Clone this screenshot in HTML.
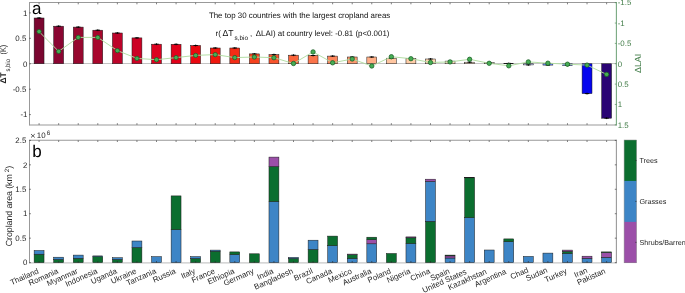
<!DOCTYPE html>
<html><head><meta charset="utf-8"><style>
html,body{margin:0;padding:0;background:#fff;}
body{width:685px;height:293px;overflow:hidden;}
svg{display:block;font-family:"Liberation Sans", sans-serif;will-change:transform;text-rendering:geometricPrecision;}
.tk{font-size:7.9px;fill:#262626;}
.ttl{font-size:7.9px;fill:#111;}
.lab{font-size:8.9px;fill:#262626;}
.big{font-size:17px;fill:#000;}
</style></head><body>
<svg width="685" height="293" viewBox="0 0 685 293">
<line x1="29.3" y1="63.5" x2="616.4" y2="63.5" stroke="#c4c4c4" stroke-width="1"/>
<rect x="34.13" y="18" width="9.9" height="45.75" fill="#7a0630" stroke="#1a1a1a" stroke-width="0.5"/>
<line x1="36.88" y1="18" x2="41.29" y2="18" stroke="#000" stroke-width="0.9"/>
<line x1="39.09" y1="17.1" x2="39.09" y2="18.9" stroke="#000" stroke-width="0.9"/>
<rect x="53.7" y="26.2" width="9.9" height="37.55" fill="#8a0632" stroke="#1a1a1a" stroke-width="0.5"/>
<line x1="56.45" y1="26.2" x2="60.86" y2="26.2" stroke="#000" stroke-width="0.9"/>
<line x1="58.66" y1="25.3" x2="58.66" y2="27.1" stroke="#000" stroke-width="0.9"/>
<rect x="73.27" y="27.1" width="9.9" height="36.65" fill="#97082f" stroke="#1a1a1a" stroke-width="0.5"/>
<line x1="76.02" y1="27.1" x2="80.42" y2="27.1" stroke="#000" stroke-width="0.9"/>
<line x1="78.22" y1="26.2" x2="78.22" y2="28" stroke="#000" stroke-width="0.9"/>
<rect x="92.84" y="30.2" width="9.9" height="33.55" fill="#a8062c" stroke="#1a1a1a" stroke-width="0.5"/>
<line x1="95.59" y1="30.2" x2="100" y2="30.2" stroke="#000" stroke-width="0.9"/>
<line x1="97.8" y1="29.3" x2="97.8" y2="31.1" stroke="#000" stroke-width="0.9"/>
<rect x="112.41" y="33" width="9.9" height="30.75" fill="#bc042a" stroke="#1a1a1a" stroke-width="0.5"/>
<line x1="115.16" y1="33" x2="119.56" y2="33" stroke="#000" stroke-width="0.9"/>
<line x1="117.36" y1="32.1" x2="117.36" y2="33.9" stroke="#000" stroke-width="0.9"/>
<rect x="131.99" y="37.9" width="9.9" height="25.85" fill="#cc0224" stroke="#1a1a1a" stroke-width="0.5"/>
<line x1="134.74" y1="37.9" x2="139.13" y2="37.9" stroke="#000" stroke-width="0.9"/>
<line x1="136.94" y1="37" x2="136.94" y2="38.8" stroke="#000" stroke-width="0.9"/>
<rect x="151.56" y="44.2" width="9.9" height="19.55" fill="#dc0220" stroke="#1a1a1a" stroke-width="0.5"/>
<line x1="154.31" y1="44.2" x2="158.7" y2="44.2" stroke="#000" stroke-width="0.9"/>
<line x1="156.5" y1="43.3" x2="156.5" y2="45.1" stroke="#000" stroke-width="0.9"/>
<rect x="171.13" y="44.3" width="9.9" height="19.45" fill="#e2001a" stroke="#1a1a1a" stroke-width="0.5"/>
<line x1="173.88" y1="44.3" x2="178.28" y2="44.3" stroke="#000" stroke-width="0.9"/>
<line x1="176.08" y1="43.4" x2="176.08" y2="45.2" stroke="#000" stroke-width="0.9"/>
<rect x="190.7" y="45.5" width="9.9" height="18.25" fill="#ea0810" stroke="#1a1a1a" stroke-width="0.5"/>
<line x1="193.45" y1="45.5" x2="197.84" y2="45.5" stroke="#000" stroke-width="0.9"/>
<line x1="195.65" y1="44.6" x2="195.65" y2="46.4" stroke="#000" stroke-width="0.9"/>
<rect x="210.27" y="48" width="9.9" height="15.75" fill="#f0180e" stroke="#1a1a1a" stroke-width="0.5"/>
<line x1="213.02" y1="48" x2="217.41" y2="48" stroke="#000" stroke-width="0.9"/>
<line x1="215.22" y1="47.1" x2="215.22" y2="48.9" stroke="#000" stroke-width="0.9"/>
<rect x="229.84" y="48" width="9.9" height="15.75" fill="#f42c16" stroke="#1a1a1a" stroke-width="0.5"/>
<line x1="232.59" y1="48" x2="236.99" y2="48" stroke="#000" stroke-width="0.9"/>
<line x1="234.79" y1="47.1" x2="234.79" y2="48.9" stroke="#000" stroke-width="0.9"/>
<rect x="249.41" y="53.9" width="9.9" height="9.85" fill="#f6421e" stroke="#1a1a1a" stroke-width="0.5"/>
<line x1="252.16" y1="53.9" x2="256.56" y2="53.9" stroke="#000" stroke-width="0.9"/>
<line x1="254.36" y1="53" x2="254.36" y2="54.8" stroke="#000" stroke-width="0.9"/>
<rect x="268.98" y="54.6" width="9.9" height="9.15" fill="#f8542c" stroke="#1a1a1a" stroke-width="0.5"/>
<line x1="271.73" y1="54.6" x2="276.12" y2="54.6" stroke="#000" stroke-width="0.9"/>
<line x1="273.93" y1="53.7" x2="273.93" y2="55.5" stroke="#000" stroke-width="0.9"/>
<rect x="288.55" y="55.2" width="9.9" height="8.55" fill="#fa643a" stroke="#1a1a1a" stroke-width="0.5"/>
<line x1="291.3" y1="55.2" x2="295.69" y2="55.2" stroke="#000" stroke-width="0.9"/>
<line x1="293.5" y1="54.3" x2="293.5" y2="56.1" stroke="#000" stroke-width="0.9"/>
<rect x="308.12" y="55.5" width="9.9" height="8.25" fill="#fb744a" stroke="#1a1a1a" stroke-width="0.5"/>
<line x1="310.87" y1="55.5" x2="315.26" y2="55.5" stroke="#000" stroke-width="0.9"/>
<line x1="313.06" y1="54.6" x2="313.06" y2="56.4" stroke="#000" stroke-width="0.9"/>
<rect x="327.69" y="56.1" width="9.9" height="7.65" fill="#fc865c" stroke="#1a1a1a" stroke-width="0.5"/>
<line x1="330.44" y1="56.1" x2="334.83" y2="56.1" stroke="#000" stroke-width="0.9"/>
<line x1="332.63" y1="55.2" x2="332.63" y2="57" stroke="#000" stroke-width="0.9"/>
<rect x="347.26" y="57" width="9.9" height="6.75" fill="#fd9a70" stroke="#1a1a1a" stroke-width="0.5"/>
<line x1="350.01" y1="57" x2="354.41" y2="57" stroke="#000" stroke-width="0.9"/>
<line x1="352.21" y1="56.1" x2="352.21" y2="57.9" stroke="#000" stroke-width="0.9"/>
<rect x="366.83" y="57" width="9.9" height="6.75" fill="#feae86" stroke="#1a1a1a" stroke-width="0.5"/>
<line x1="369.58" y1="57" x2="373.98" y2="57" stroke="#000" stroke-width="0.9"/>
<line x1="371.78" y1="56.1" x2="371.78" y2="57.9" stroke="#000" stroke-width="0.9"/>
<rect x="386.4" y="58.2" width="9.9" height="5.55" fill="#ffc6a0" stroke="#1a1a1a" stroke-width="0.5"/>
<line x1="389.15" y1="58.2" x2="393.55" y2="58.2" stroke="#000" stroke-width="0.9"/>
<line x1="391.35" y1="57.3" x2="391.35" y2="59.1" stroke="#000" stroke-width="0.9"/>
<rect x="405.97" y="58.4" width="9.9" height="5.35" fill="#ffcea8" stroke="#1a1a1a" stroke-width="0.5"/>
<line x1="408.72" y1="58.4" x2="413.12" y2="58.4" stroke="#000" stroke-width="0.9"/>
<line x1="410.92" y1="57.5" x2="410.92" y2="59.3" stroke="#000" stroke-width="0.9"/>
<rect x="425.54" y="59" width="9.9" height="4.75" fill="#ffd6b2" stroke="#1a1a1a" stroke-width="0.5"/>
<line x1="428.29" y1="59" x2="432.69" y2="59" stroke="#000" stroke-width="0.9"/>
<line x1="430.49" y1="58.1" x2="430.49" y2="59.9" stroke="#000" stroke-width="0.9"/>
<rect x="445.11" y="61.1" width="9.9" height="2.65" fill="#ffdebe" stroke="#1a1a1a" stroke-width="0.5"/>
<line x1="447.86" y1="61.1" x2="452.25" y2="61.1" stroke="#000" stroke-width="0.9"/>
<line x1="450.06" y1="60.2" x2="450.06" y2="62" stroke="#000" stroke-width="0.9"/>
<rect x="464.68" y="62.2" width="9.9" height="1.55" fill="#ffe4ca" stroke="#1a1a1a" stroke-width="0.5"/>
<line x1="467.43" y1="62.2" x2="471.82" y2="62.2" stroke="#000" stroke-width="0.9"/>
<line x1="469.62" y1="61.3" x2="469.62" y2="63.1" stroke="#000" stroke-width="0.9"/>
<rect x="484.25" y="62.5" width="9.9" height="1.25" fill="#ffe8d0" stroke="#1a1a1a" stroke-width="0.5"/>
<line x1="487" y1="62.5" x2="491.39" y2="62.5" stroke="#000" stroke-width="0.9"/>
<line x1="489.19" y1="61.6" x2="489.19" y2="63.4" stroke="#000" stroke-width="0.9"/>
<rect x="503.82" y="63.4" width="9.9" height="0.35" fill="#f0f0f0" stroke="#1a1a1a" stroke-width="0.5"/>
<line x1="506.57" y1="63.4" x2="510.97" y2="63.4" stroke="#000" stroke-width="0.9"/>
<line x1="508.77" y1="62.5" x2="508.77" y2="64.3" stroke="#000" stroke-width="0.9"/>
<rect x="523.38" y="63.75" width="9.9" height="1.15" fill="#c8d4ff" stroke="#1a1a1a" stroke-width="0.5"/>
<line x1="526.13" y1="64.9" x2="530.54" y2="64.9" stroke="#000" stroke-width="0.9"/>
<line x1="528.34" y1="64" x2="528.34" y2="65.8" stroke="#000" stroke-width="0.9"/>
<rect x="542.95" y="63.75" width="9.9" height="1.35" fill="#6a8cff" stroke="#1a1a1a" stroke-width="0.5"/>
<line x1="545.7" y1="65.1" x2="550.11" y2="65.1" stroke="#000" stroke-width="0.9"/>
<line x1="547.9" y1="64.2" x2="547.9" y2="66" stroke="#000" stroke-width="0.9"/>
<rect x="562.52" y="63.75" width="9.9" height="1.75" fill="#5a7cff" stroke="#1a1a1a" stroke-width="0.5"/>
<line x1="565.27" y1="65.5" x2="569.67" y2="65.5" stroke="#000" stroke-width="0.9"/>
<line x1="567.47" y1="64.6" x2="567.47" y2="66.4" stroke="#000" stroke-width="0.9"/>
<rect x="582.09" y="63.75" width="9.9" height="29.85" fill="#0606ee" stroke="#1a1a1a" stroke-width="0.5"/>
<line x1="584.84" y1="93.6" x2="589.25" y2="93.6" stroke="#000" stroke-width="0.9"/>
<line x1="587.04" y1="92.7" x2="587.04" y2="94.5" stroke="#000" stroke-width="0.9"/>
<rect x="601.66" y="63.75" width="9.9" height="54.45" fill="#2a0474" stroke="#1a1a1a" stroke-width="0.5"/>
<line x1="604.41" y1="118.2" x2="608.82" y2="118.2" stroke="#000" stroke-width="0.9"/>
<line x1="606.62" y1="117.3" x2="606.62" y2="119.1" stroke="#000" stroke-width="0.9"/>
<path d="M39.09,31.6 L58.66,51.4 L78.22,37.4 L97.8,37.4 L117.36,50.6 L136.94,58.4 L156.5,59.7 L176.08,57.6 L195.65,55.4 L215.22,54.6 L234.79,57.6 L254.36,57 L273.93,57.7 L293.5,63.5 L313.06,51.9 L332.63,62.8 L352.21,59 L371.78,66 L391.35,56.7 L410.92,58.7 L430.49,62.5 L450.06,61.9 L469.62,59.3 L489.19,63.3 L508.77,65.8 L528.34,61.9 L547.9,63.2 L567.47,64.2 L587.04,65.1 L606.62,74.4" fill="none" stroke="#b0dca0" stroke-width="0.95"/>
<circle cx="39.09" cy="31.6" r="2.2" fill="#46ad55" stroke="#1a5f24" stroke-width="0.75"/>
<circle cx="58.66" cy="51.4" r="2.2" fill="#46ad55" stroke="#1a5f24" stroke-width="0.75"/>
<circle cx="78.22" cy="37.4" r="2.2" fill="#46ad55" stroke="#1a5f24" stroke-width="0.75"/>
<circle cx="97.8" cy="37.4" r="2.2" fill="#46ad55" stroke="#1a5f24" stroke-width="0.75"/>
<circle cx="117.36" cy="50.6" r="2.2" fill="#46ad55" stroke="#1a5f24" stroke-width="0.75"/>
<circle cx="136.94" cy="58.4" r="2.2" fill="#46ad55" stroke="#1a5f24" stroke-width="0.75"/>
<circle cx="156.5" cy="59.7" r="2.2" fill="#46ad55" stroke="#1a5f24" stroke-width="0.75"/>
<circle cx="176.08" cy="57.6" r="2.2" fill="#46ad55" stroke="#1a5f24" stroke-width="0.75"/>
<circle cx="195.65" cy="55.4" r="2.2" fill="#46ad55" stroke="#1a5f24" stroke-width="0.75"/>
<circle cx="215.22" cy="54.6" r="2.2" fill="#46ad55" stroke="#1a5f24" stroke-width="0.75"/>
<circle cx="234.79" cy="57.6" r="2.2" fill="#46ad55" stroke="#1a5f24" stroke-width="0.75"/>
<circle cx="254.36" cy="57" r="2.2" fill="#46ad55" stroke="#1a5f24" stroke-width="0.75"/>
<circle cx="273.93" cy="57.7" r="2.2" fill="#46ad55" stroke="#1a5f24" stroke-width="0.75"/>
<circle cx="293.5" cy="63.5" r="2.2" fill="#46ad55" stroke="#1a5f24" stroke-width="0.75"/>
<circle cx="313.06" cy="51.9" r="2.2" fill="#46ad55" stroke="#1a5f24" stroke-width="0.75"/>
<circle cx="332.63" cy="62.8" r="2.2" fill="#46ad55" stroke="#1a5f24" stroke-width="0.75"/>
<circle cx="352.21" cy="59" r="2.2" fill="#46ad55" stroke="#1a5f24" stroke-width="0.75"/>
<circle cx="371.78" cy="66" r="2.2" fill="#46ad55" stroke="#1a5f24" stroke-width="0.75"/>
<circle cx="391.35" cy="56.7" r="2.2" fill="#46ad55" stroke="#1a5f24" stroke-width="0.75"/>
<circle cx="410.92" cy="58.7" r="2.2" fill="#46ad55" stroke="#1a5f24" stroke-width="0.75"/>
<circle cx="430.49" cy="62.5" r="2.2" fill="#46ad55" stroke="#1a5f24" stroke-width="0.75"/>
<circle cx="450.06" cy="61.9" r="2.2" fill="#46ad55" stroke="#1a5f24" stroke-width="0.75"/>
<circle cx="469.62" cy="59.3" r="2.2" fill="#46ad55" stroke="#1a5f24" stroke-width="0.75"/>
<circle cx="489.19" cy="63.3" r="2.2" fill="#46ad55" stroke="#1a5f24" stroke-width="0.75"/>
<circle cx="508.77" cy="65.8" r="2.2" fill="#46ad55" stroke="#1a5f24" stroke-width="0.75"/>
<circle cx="528.34" cy="61.9" r="2.2" fill="#46ad55" stroke="#1a5f24" stroke-width="0.75"/>
<circle cx="547.9" cy="63.2" r="2.2" fill="#46ad55" stroke="#1a5f24" stroke-width="0.75"/>
<circle cx="567.47" cy="64.2" r="2.2" fill="#46ad55" stroke="#1a5f24" stroke-width="0.75"/>
<circle cx="587.04" cy="65.1" r="2.2" fill="#46ad55" stroke="#1a5f24" stroke-width="0.75"/>
<circle cx="606.62" cy="74.4" r="2.2" fill="#46ad55" stroke="#1a5f24" stroke-width="0.75"/>
<line x1="29.5" y1="2.5" x2="616.4" y2="2.5" stroke="#999999" stroke-width="1"/>
<line x1="29.5" y1="125" x2="616.4" y2="125" stroke="#999999" stroke-width="1.1"/>
<line x1="29.5" y1="2" x2="29.5" y2="125.5" stroke="#999999" stroke-width="1"/>
<line x1="616.4" y1="2" x2="616.4" y2="125.5" stroke="#78a880" stroke-width="1.1"/>
<line x1="39.09" y1="124.8" x2="39.09" y2="123.2" stroke="#262626" stroke-width="0.6"/>
<line x1="39.09" y1="2.7" x2="39.09" y2="4.3" stroke="#262626" stroke-width="0.6"/>
<line x1="58.66" y1="124.8" x2="58.66" y2="123.2" stroke="#262626" stroke-width="0.6"/>
<line x1="58.66" y1="2.7" x2="58.66" y2="4.3" stroke="#262626" stroke-width="0.6"/>
<line x1="78.22" y1="124.8" x2="78.22" y2="123.2" stroke="#262626" stroke-width="0.6"/>
<line x1="78.22" y1="2.7" x2="78.22" y2="4.3" stroke="#262626" stroke-width="0.6"/>
<line x1="97.8" y1="124.8" x2="97.8" y2="123.2" stroke="#262626" stroke-width="0.6"/>
<line x1="97.8" y1="2.7" x2="97.8" y2="4.3" stroke="#262626" stroke-width="0.6"/>
<line x1="117.36" y1="124.8" x2="117.36" y2="123.2" stroke="#262626" stroke-width="0.6"/>
<line x1="117.36" y1="2.7" x2="117.36" y2="4.3" stroke="#262626" stroke-width="0.6"/>
<line x1="136.94" y1="124.8" x2="136.94" y2="123.2" stroke="#262626" stroke-width="0.6"/>
<line x1="136.94" y1="2.7" x2="136.94" y2="4.3" stroke="#262626" stroke-width="0.6"/>
<line x1="156.5" y1="124.8" x2="156.5" y2="123.2" stroke="#262626" stroke-width="0.6"/>
<line x1="156.5" y1="2.7" x2="156.5" y2="4.3" stroke="#262626" stroke-width="0.6"/>
<line x1="176.08" y1="124.8" x2="176.08" y2="123.2" stroke="#262626" stroke-width="0.6"/>
<line x1="176.08" y1="2.7" x2="176.08" y2="4.3" stroke="#262626" stroke-width="0.6"/>
<line x1="195.65" y1="124.8" x2="195.65" y2="123.2" stroke="#262626" stroke-width="0.6"/>
<line x1="195.65" y1="2.7" x2="195.65" y2="4.3" stroke="#262626" stroke-width="0.6"/>
<line x1="215.22" y1="124.8" x2="215.22" y2="123.2" stroke="#262626" stroke-width="0.6"/>
<line x1="215.22" y1="2.7" x2="215.22" y2="4.3" stroke="#262626" stroke-width="0.6"/>
<line x1="234.79" y1="124.8" x2="234.79" y2="123.2" stroke="#262626" stroke-width="0.6"/>
<line x1="234.79" y1="2.7" x2="234.79" y2="4.3" stroke="#262626" stroke-width="0.6"/>
<line x1="254.36" y1="124.8" x2="254.36" y2="123.2" stroke="#262626" stroke-width="0.6"/>
<line x1="254.36" y1="2.7" x2="254.36" y2="4.3" stroke="#262626" stroke-width="0.6"/>
<line x1="273.93" y1="124.8" x2="273.93" y2="123.2" stroke="#262626" stroke-width="0.6"/>
<line x1="273.93" y1="2.7" x2="273.93" y2="4.3" stroke="#262626" stroke-width="0.6"/>
<line x1="293.5" y1="124.8" x2="293.5" y2="123.2" stroke="#262626" stroke-width="0.6"/>
<line x1="293.5" y1="2.7" x2="293.5" y2="4.3" stroke="#262626" stroke-width="0.6"/>
<line x1="313.06" y1="124.8" x2="313.06" y2="123.2" stroke="#262626" stroke-width="0.6"/>
<line x1="313.06" y1="2.7" x2="313.06" y2="4.3" stroke="#262626" stroke-width="0.6"/>
<line x1="332.63" y1="124.8" x2="332.63" y2="123.2" stroke="#262626" stroke-width="0.6"/>
<line x1="332.63" y1="2.7" x2="332.63" y2="4.3" stroke="#262626" stroke-width="0.6"/>
<line x1="352.21" y1="124.8" x2="352.21" y2="123.2" stroke="#262626" stroke-width="0.6"/>
<line x1="352.21" y1="2.7" x2="352.21" y2="4.3" stroke="#262626" stroke-width="0.6"/>
<line x1="371.78" y1="124.8" x2="371.78" y2="123.2" stroke="#262626" stroke-width="0.6"/>
<line x1="371.78" y1="2.7" x2="371.78" y2="4.3" stroke="#262626" stroke-width="0.6"/>
<line x1="391.35" y1="124.8" x2="391.35" y2="123.2" stroke="#262626" stroke-width="0.6"/>
<line x1="391.35" y1="2.7" x2="391.35" y2="4.3" stroke="#262626" stroke-width="0.6"/>
<line x1="410.92" y1="124.8" x2="410.92" y2="123.2" stroke="#262626" stroke-width="0.6"/>
<line x1="410.92" y1="2.7" x2="410.92" y2="4.3" stroke="#262626" stroke-width="0.6"/>
<line x1="430.49" y1="124.8" x2="430.49" y2="123.2" stroke="#262626" stroke-width="0.6"/>
<line x1="430.49" y1="2.7" x2="430.49" y2="4.3" stroke="#262626" stroke-width="0.6"/>
<line x1="450.06" y1="124.8" x2="450.06" y2="123.2" stroke="#262626" stroke-width="0.6"/>
<line x1="450.06" y1="2.7" x2="450.06" y2="4.3" stroke="#262626" stroke-width="0.6"/>
<line x1="469.62" y1="124.8" x2="469.62" y2="123.2" stroke="#262626" stroke-width="0.6"/>
<line x1="469.62" y1="2.7" x2="469.62" y2="4.3" stroke="#262626" stroke-width="0.6"/>
<line x1="489.19" y1="124.8" x2="489.19" y2="123.2" stroke="#262626" stroke-width="0.6"/>
<line x1="489.19" y1="2.7" x2="489.19" y2="4.3" stroke="#262626" stroke-width="0.6"/>
<line x1="508.77" y1="124.8" x2="508.77" y2="123.2" stroke="#262626" stroke-width="0.6"/>
<line x1="508.77" y1="2.7" x2="508.77" y2="4.3" stroke="#262626" stroke-width="0.6"/>
<line x1="528.34" y1="124.8" x2="528.34" y2="123.2" stroke="#262626" stroke-width="0.6"/>
<line x1="528.34" y1="2.7" x2="528.34" y2="4.3" stroke="#262626" stroke-width="0.6"/>
<line x1="547.9" y1="124.8" x2="547.9" y2="123.2" stroke="#262626" stroke-width="0.6"/>
<line x1="547.9" y1="2.7" x2="547.9" y2="4.3" stroke="#262626" stroke-width="0.6"/>
<line x1="567.47" y1="124.8" x2="567.47" y2="123.2" stroke="#262626" stroke-width="0.6"/>
<line x1="567.47" y1="2.7" x2="567.47" y2="4.3" stroke="#262626" stroke-width="0.6"/>
<line x1="587.04" y1="124.8" x2="587.04" y2="123.2" stroke="#262626" stroke-width="0.6"/>
<line x1="587.04" y1="2.7" x2="587.04" y2="4.3" stroke="#262626" stroke-width="0.6"/>
<line x1="606.62" y1="124.8" x2="606.62" y2="123.2" stroke="#262626" stroke-width="0.6"/>
<line x1="606.62" y1="2.7" x2="606.62" y2="4.3" stroke="#262626" stroke-width="0.6"/>
<line x1="29.3" y1="12.88" x2="30.9" y2="12.88" stroke="#262626" stroke-width="0.6"/>
<text x="27.5" y="15.62" text-anchor="end" class="tk">1</text>
<line x1="29.3" y1="38.31" x2="30.9" y2="38.31" stroke="#262626" stroke-width="0.6"/>
<text x="26.3" y="41.06" text-anchor="end" class="tk">0.5</text>
<line x1="29.3" y1="63.75" x2="30.9" y2="63.75" stroke="#262626" stroke-width="0.6"/>
<text x="27.5" y="66.5" text-anchor="end" class="tk">0</text>
<line x1="29.3" y1="89.19" x2="30.9" y2="89.19" stroke="#262626" stroke-width="0.6"/>
<text x="26.3" y="91.94" text-anchor="end" class="tk">-0.5</text>
<line x1="29.3" y1="114.62" x2="30.9" y2="114.62" stroke="#262626" stroke-width="0.6"/>
<text x="27.5" y="117.38" text-anchor="end" class="tk">-1</text>
<line x1="616.4" y1="2.7" x2="614.8" y2="2.7" stroke="#417c47" stroke-width="0.6"/>
<text x="617.7" y="5.45" class="tk" style="fill:#417c47">-1.5</text>
<line x1="616.4" y1="23.05" x2="614.8" y2="23.05" stroke="#417c47" stroke-width="0.6"/>
<text x="617.7" y="25.8" class="tk" style="fill:#417c47">-1</text>
<line x1="616.4" y1="43.4" x2="614.8" y2="43.4" stroke="#417c47" stroke-width="0.6"/>
<text x="617.7" y="46.15" class="tk" style="fill:#417c47">-0.5</text>
<line x1="616.4" y1="63.75" x2="614.8" y2="63.75" stroke="#417c47" stroke-width="0.6"/>
<text x="617.7" y="66.5" class="tk" style="fill:#417c47">0</text>
<line x1="616.4" y1="84.1" x2="614.8" y2="84.1" stroke="#417c47" stroke-width="0.6"/>
<text x="617.7" y="86.85" class="tk" style="fill:#417c47">0.5</text>
<line x1="616.4" y1="104.45" x2="614.8" y2="104.45" stroke="#417c47" stroke-width="0.6"/>
<text x="617.7" y="107.2" class="tk" style="fill:#417c47">1</text>
<line x1="616.4" y1="124.8" x2="614.8" y2="124.8" stroke="#417c47" stroke-width="0.6"/>
<text x="617.7" y="127.55" class="tk" style="fill:#417c47">1.5</text>
<text x="208.9" y="17.8" class="ttl" textLength="181.4" lengthAdjust="spacing">The top 30 countries with the largest cropland areas</text>
<text x="215.5" y="35.9" class="ttl">r(</text>
<text x="222.5" y="35.9" class="ttl" style="font-size:8.6px" textLength="11.1" lengthAdjust="spacingAndGlyphs">ΔT</text>
<text x="234.6" y="39.5" class="ttl" style="font-size:6.4px">s,bio</text>
<text x="250.1" y="35.9" class="ttl">,</text>
<text x="255.8" y="35.9" class="ttl" textLength="133.6" lengthAdjust="spacing">ΔLAI) at country level: -0.81 (p&lt;0.001)</text>
<text x="32.1" y="14" class="big">a</text>
<text x="32.2" y="157" class="big">b</text>
<text transform="translate(5.8,83.6) rotate(-90)" class="lab" style="font-size:8.4px;font-weight:bold" textLength="11.2" lengthAdjust="spacingAndGlyphs">ΔT</text>
<text transform="translate(9.9,71.6) rotate(-90)" class="lab" style="font-size:6.5px" textLength="12.6" lengthAdjust="spacingAndGlyphs">s,bio</text>
<text transform="translate(6.1,54.4) rotate(-90)" class="lab" style="font-size:8.5px" textLength="9.6" lengthAdjust="spacingAndGlyphs">(K)</text>
<text transform="translate(641.4,73) rotate(-90)" class="lab" style="fill:#417c47">ΔLAI</text>
<line x1="29.5" y1="262.8" x2="616.4" y2="262.8" stroke="#c8c8c8" stroke-width="1.2"/>
<rect x="34.13" y="254.2" width="9.9" height="8.4" fill="#0b6e2f" stroke="#1a1a1a" stroke-width="0.5"/>
<rect x="34.13" y="250.5" width="9.9" height="3.7" fill="#3d85c6" stroke="#1a1a1a" stroke-width="0.5"/>
<rect x="53.7" y="259.4" width="9.9" height="3.2" fill="#0b6e2f" stroke="#1a1a1a" stroke-width="0.5"/>
<rect x="53.7" y="257.2" width="9.9" height="2.2" fill="#3d85c6" stroke="#1a1a1a" stroke-width="0.5"/>
<rect x="73.27" y="258.3" width="9.9" height="4.3" fill="#0b6e2f" stroke="#1a1a1a" stroke-width="0.5"/>
<rect x="73.27" y="255.1" width="9.9" height="3.2" fill="#3d85c6" stroke="#1a1a1a" stroke-width="0.5"/>
<rect x="92.84" y="256.5" width="9.9" height="6.1" fill="#0b6e2f" stroke="#1a1a1a" stroke-width="0.5"/>
<rect x="92.84" y="255.9" width="9.9" height="0.6" fill="#3d85c6" stroke="#1a1a1a" stroke-width="0.5"/>
<rect x="112.41" y="259.4" width="9.9" height="3.2" fill="#0b6e2f" stroke="#1a1a1a" stroke-width="0.5"/>
<rect x="112.41" y="257.7" width="9.9" height="1.7" fill="#3d85c6" stroke="#1a1a1a" stroke-width="0.5"/>
<rect x="131.99" y="247.5" width="9.9" height="15.1" fill="#0b6e2f" stroke="#1a1a1a" stroke-width="0.5"/>
<rect x="131.99" y="241" width="9.9" height="6.5" fill="#3d85c6" stroke="#1a1a1a" stroke-width="0.5"/>
<rect x="151.56" y="256.6" width="9.9" height="6" fill="#3d85c6" stroke="#1a1a1a" stroke-width="0.5"/>
<rect x="171.13" y="229.7" width="9.9" height="32.9" fill="#3d85c6" stroke="#1a1a1a" stroke-width="0.5"/>
<rect x="171.13" y="195.9" width="9.9" height="33.8" fill="#0b6e2f" stroke="#1a1a1a" stroke-width="0.5"/>
<rect x="190.7" y="258.5" width="9.9" height="4.1" fill="#0b6e2f" stroke="#1a1a1a" stroke-width="0.5"/>
<rect x="190.7" y="256.6" width="9.9" height="1.9" fill="#3d85c6" stroke="#1a1a1a" stroke-width="0.5"/>
<rect x="210.27" y="251.2" width="9.9" height="11.4" fill="#0b6e2f" stroke="#1a1a1a" stroke-width="0.5"/>
<rect x="210.27" y="250.1" width="9.9" height="1.1" fill="#3d85c6" stroke="#1a1a1a" stroke-width="0.5"/>
<rect x="229.84" y="254.5" width="9.9" height="8.1" fill="#3d85c6" stroke="#1a1a1a" stroke-width="0.5"/>
<rect x="229.84" y="251.9" width="9.9" height="2.6" fill="#0b6e2f" stroke="#1a1a1a" stroke-width="0.5"/>
<rect x="249.41" y="253.8" width="9.9" height="8.8" fill="#0b6e2f" stroke="#1a1a1a" stroke-width="0.5"/>
<rect x="268.98" y="201.6" width="9.9" height="61" fill="#3d85c6" stroke="#1a1a1a" stroke-width="0.5"/>
<rect x="268.98" y="166.5" width="9.9" height="35.1" fill="#0b6e2f" stroke="#1a1a1a" stroke-width="0.5"/>
<rect x="268.98" y="157.1" width="9.9" height="9.4" fill="#9b4fa8" stroke="#1a1a1a" stroke-width="0.5"/>
<rect x="288.55" y="258.5" width="9.9" height="4.1" fill="#0b6e2f" stroke="#1a1a1a" stroke-width="0.5"/>
<rect x="288.55" y="257.4" width="9.9" height="1.1" fill="#3d85c6" stroke="#1a1a1a" stroke-width="0.5"/>
<rect x="308.12" y="249.4" width="9.9" height="13.2" fill="#0b6e2f" stroke="#1a1a1a" stroke-width="0.5"/>
<rect x="308.12" y="240.2" width="9.9" height="9.2" fill="#3d85c6" stroke="#1a1a1a" stroke-width="0.5"/>
<rect x="327.69" y="245.7" width="9.9" height="16.9" fill="#3d85c6" stroke="#1a1a1a" stroke-width="0.5"/>
<rect x="327.69" y="236.1" width="9.9" height="9.6" fill="#0b6e2f" stroke="#1a1a1a" stroke-width="0.5"/>
<rect x="347.26" y="258.4" width="9.9" height="4.2" fill="#3d85c6" stroke="#1a1a1a" stroke-width="0.5"/>
<rect x="347.26" y="254.6" width="9.9" height="3.8" fill="#0b6e2f" stroke="#1a1a1a" stroke-width="0.5"/>
<rect x="347.26" y="254.1" width="9.9" height="0.5" fill="#9b4fa8" stroke="#1a1a1a" stroke-width="0.5"/>
<rect x="366.83" y="243.8" width="9.9" height="18.8" fill="#3d85c6" stroke="#1a1a1a" stroke-width="0.5"/>
<rect x="366.83" y="239.7" width="9.9" height="4.1" fill="#9b4fa8" stroke="#1a1a1a" stroke-width="0.5"/>
<rect x="366.83" y="237.2" width="9.9" height="2.5" fill="#0b6e2f" stroke="#1a1a1a" stroke-width="0.5"/>
<rect x="386.4" y="253.5" width="9.9" height="9.1" fill="#0b6e2f" stroke="#1a1a1a" stroke-width="0.5"/>
<rect x="405.97" y="243.5" width="9.9" height="19.1" fill="#3d85c6" stroke="#1a1a1a" stroke-width="0.5"/>
<rect x="405.97" y="237.8" width="9.9" height="5.7" fill="#0b6e2f" stroke="#1a1a1a" stroke-width="0.5"/>
<rect x="405.97" y="236.9" width="9.9" height="0.9" fill="#9b4fa8" stroke="#1a1a1a" stroke-width="0.5"/>
<rect x="425.54" y="221.3" width="9.9" height="41.3" fill="#0b6e2f" stroke="#1a1a1a" stroke-width="0.5"/>
<rect x="425.54" y="181.4" width="9.9" height="39.9" fill="#3d85c6" stroke="#1a1a1a" stroke-width="0.5"/>
<rect x="425.54" y="179.2" width="9.9" height="2.2" fill="#9b4fa8" stroke="#1a1a1a" stroke-width="0.5"/>
<rect x="445.11" y="258" width="9.9" height="4.6" fill="#3d85c6" stroke="#1a1a1a" stroke-width="0.5"/>
<rect x="445.11" y="255.9" width="9.9" height="2.1" fill="#9b4fa8" stroke="#1a1a1a" stroke-width="0.5"/>
<rect x="445.11" y="255.1" width="9.9" height="0.8" fill="#0b6e2f" stroke="#1a1a1a" stroke-width="0.5"/>
<rect x="464.68" y="217.7" width="9.9" height="44.9" fill="#3d85c6" stroke="#1a1a1a" stroke-width="0.5"/>
<rect x="464.68" y="177.8" width="9.9" height="39.9" fill="#0b6e2f" stroke="#1a1a1a" stroke-width="0.5"/>
<rect x="464.68" y="177.3" width="9.9" height="0.5" fill="#9b4fa8" stroke="#1a1a1a" stroke-width="0.5"/>
<rect x="484.25" y="250" width="9.9" height="12.6" fill="#3d85c6" stroke="#1a1a1a" stroke-width="0.5"/>
<rect x="503.82" y="241.7" width="9.9" height="20.9" fill="#3d85c6" stroke="#1a1a1a" stroke-width="0.5"/>
<rect x="503.82" y="238.9" width="9.9" height="2.8" fill="#0b6e2f" stroke="#1a1a1a" stroke-width="0.5"/>
<rect x="523.38" y="256.4" width="9.9" height="6.2" fill="#3d85c6" stroke="#1a1a1a" stroke-width="0.5"/>
<rect x="542.95" y="253.1" width="9.9" height="9.5" fill="#3d85c6" stroke="#1a1a1a" stroke-width="0.5"/>
<rect x="562.52" y="253.4" width="9.9" height="9.2" fill="#3d85c6" stroke="#1a1a1a" stroke-width="0.5"/>
<rect x="562.52" y="251.4" width="9.9" height="2" fill="#0b6e2f" stroke="#1a1a1a" stroke-width="0.5"/>
<rect x="562.52" y="250.1" width="9.9" height="1.3" fill="#9b4fa8" stroke="#1a1a1a" stroke-width="0.5"/>
<rect x="582.09" y="258.3" width="9.9" height="4.3" fill="#3d85c6" stroke="#1a1a1a" stroke-width="0.5"/>
<rect x="582.09" y="256.2" width="9.9" height="2.1" fill="#9b4fa8" stroke="#1a1a1a" stroke-width="0.5"/>
<rect x="601.66" y="257.3" width="9.9" height="5.3" fill="#3d85c6" stroke="#1a1a1a" stroke-width="0.5"/>
<rect x="601.66" y="252.5" width="9.9" height="4.8" fill="#9b4fa8" stroke="#1a1a1a" stroke-width="0.5"/>
<rect x="601.66" y="251.9" width="9.9" height="0.6" fill="#0b6e2f" stroke="#1a1a1a" stroke-width="0.5"/>
<line x1="29.5" y1="140.3" x2="616.4" y2="140.3" stroke="#999999" stroke-width="1.1"/>
<line x1="29.5" y1="139.8" x2="29.5" y2="263.3" stroke="#999999" stroke-width="1"/>
<line x1="616.4" y1="139.8" x2="616.4" y2="263.3" stroke="#999999" stroke-width="1.1"/>
<line x1="39.09" y1="262.6" x2="39.09" y2="261" stroke="#262626" stroke-width="0.6"/>
<line x1="39.09" y1="140.4" x2="39.09" y2="142" stroke="#262626" stroke-width="0.6"/>
<line x1="58.66" y1="262.6" x2="58.66" y2="261" stroke="#262626" stroke-width="0.6"/>
<line x1="58.66" y1="140.4" x2="58.66" y2="142" stroke="#262626" stroke-width="0.6"/>
<line x1="78.22" y1="262.6" x2="78.22" y2="261" stroke="#262626" stroke-width="0.6"/>
<line x1="78.22" y1="140.4" x2="78.22" y2="142" stroke="#262626" stroke-width="0.6"/>
<line x1="97.8" y1="262.6" x2="97.8" y2="261" stroke="#262626" stroke-width="0.6"/>
<line x1="97.8" y1="140.4" x2="97.8" y2="142" stroke="#262626" stroke-width="0.6"/>
<line x1="117.36" y1="262.6" x2="117.36" y2="261" stroke="#262626" stroke-width="0.6"/>
<line x1="117.36" y1="140.4" x2="117.36" y2="142" stroke="#262626" stroke-width="0.6"/>
<line x1="136.94" y1="262.6" x2="136.94" y2="261" stroke="#262626" stroke-width="0.6"/>
<line x1="136.94" y1="140.4" x2="136.94" y2="142" stroke="#262626" stroke-width="0.6"/>
<line x1="156.5" y1="262.6" x2="156.5" y2="261" stroke="#262626" stroke-width="0.6"/>
<line x1="156.5" y1="140.4" x2="156.5" y2="142" stroke="#262626" stroke-width="0.6"/>
<line x1="176.08" y1="262.6" x2="176.08" y2="261" stroke="#262626" stroke-width="0.6"/>
<line x1="176.08" y1="140.4" x2="176.08" y2="142" stroke="#262626" stroke-width="0.6"/>
<line x1="195.65" y1="262.6" x2="195.65" y2="261" stroke="#262626" stroke-width="0.6"/>
<line x1="195.65" y1="140.4" x2="195.65" y2="142" stroke="#262626" stroke-width="0.6"/>
<line x1="215.22" y1="262.6" x2="215.22" y2="261" stroke="#262626" stroke-width="0.6"/>
<line x1="215.22" y1="140.4" x2="215.22" y2="142" stroke="#262626" stroke-width="0.6"/>
<line x1="234.79" y1="262.6" x2="234.79" y2="261" stroke="#262626" stroke-width="0.6"/>
<line x1="234.79" y1="140.4" x2="234.79" y2="142" stroke="#262626" stroke-width="0.6"/>
<line x1="254.36" y1="262.6" x2="254.36" y2="261" stroke="#262626" stroke-width="0.6"/>
<line x1="254.36" y1="140.4" x2="254.36" y2="142" stroke="#262626" stroke-width="0.6"/>
<line x1="273.93" y1="262.6" x2="273.93" y2="261" stroke="#262626" stroke-width="0.6"/>
<line x1="273.93" y1="140.4" x2="273.93" y2="142" stroke="#262626" stroke-width="0.6"/>
<line x1="293.5" y1="262.6" x2="293.5" y2="261" stroke="#262626" stroke-width="0.6"/>
<line x1="293.5" y1="140.4" x2="293.5" y2="142" stroke="#262626" stroke-width="0.6"/>
<line x1="313.06" y1="262.6" x2="313.06" y2="261" stroke="#262626" stroke-width="0.6"/>
<line x1="313.06" y1="140.4" x2="313.06" y2="142" stroke="#262626" stroke-width="0.6"/>
<line x1="332.63" y1="262.6" x2="332.63" y2="261" stroke="#262626" stroke-width="0.6"/>
<line x1="332.63" y1="140.4" x2="332.63" y2="142" stroke="#262626" stroke-width="0.6"/>
<line x1="352.21" y1="262.6" x2="352.21" y2="261" stroke="#262626" stroke-width="0.6"/>
<line x1="352.21" y1="140.4" x2="352.21" y2="142" stroke="#262626" stroke-width="0.6"/>
<line x1="371.78" y1="262.6" x2="371.78" y2="261" stroke="#262626" stroke-width="0.6"/>
<line x1="371.78" y1="140.4" x2="371.78" y2="142" stroke="#262626" stroke-width="0.6"/>
<line x1="391.35" y1="262.6" x2="391.35" y2="261" stroke="#262626" stroke-width="0.6"/>
<line x1="391.35" y1="140.4" x2="391.35" y2="142" stroke="#262626" stroke-width="0.6"/>
<line x1="410.92" y1="262.6" x2="410.92" y2="261" stroke="#262626" stroke-width="0.6"/>
<line x1="410.92" y1="140.4" x2="410.92" y2="142" stroke="#262626" stroke-width="0.6"/>
<line x1="430.49" y1="262.6" x2="430.49" y2="261" stroke="#262626" stroke-width="0.6"/>
<line x1="430.49" y1="140.4" x2="430.49" y2="142" stroke="#262626" stroke-width="0.6"/>
<line x1="450.06" y1="262.6" x2="450.06" y2="261" stroke="#262626" stroke-width="0.6"/>
<line x1="450.06" y1="140.4" x2="450.06" y2="142" stroke="#262626" stroke-width="0.6"/>
<line x1="469.62" y1="262.6" x2="469.62" y2="261" stroke="#262626" stroke-width="0.6"/>
<line x1="469.62" y1="140.4" x2="469.62" y2="142" stroke="#262626" stroke-width="0.6"/>
<line x1="489.19" y1="262.6" x2="489.19" y2="261" stroke="#262626" stroke-width="0.6"/>
<line x1="489.19" y1="140.4" x2="489.19" y2="142" stroke="#262626" stroke-width="0.6"/>
<line x1="508.77" y1="262.6" x2="508.77" y2="261" stroke="#262626" stroke-width="0.6"/>
<line x1="508.77" y1="140.4" x2="508.77" y2="142" stroke="#262626" stroke-width="0.6"/>
<line x1="528.34" y1="262.6" x2="528.34" y2="261" stroke="#262626" stroke-width="0.6"/>
<line x1="528.34" y1="140.4" x2="528.34" y2="142" stroke="#262626" stroke-width="0.6"/>
<line x1="547.9" y1="262.6" x2="547.9" y2="261" stroke="#262626" stroke-width="0.6"/>
<line x1="547.9" y1="140.4" x2="547.9" y2="142" stroke="#262626" stroke-width="0.6"/>
<line x1="567.47" y1="262.6" x2="567.47" y2="261" stroke="#262626" stroke-width="0.6"/>
<line x1="567.47" y1="140.4" x2="567.47" y2="142" stroke="#262626" stroke-width="0.6"/>
<line x1="587.04" y1="262.6" x2="587.04" y2="261" stroke="#262626" stroke-width="0.6"/>
<line x1="587.04" y1="140.4" x2="587.04" y2="142" stroke="#262626" stroke-width="0.6"/>
<line x1="606.62" y1="262.6" x2="606.62" y2="261" stroke="#262626" stroke-width="0.6"/>
<line x1="606.62" y1="140.4" x2="606.62" y2="142" stroke="#262626" stroke-width="0.6"/>
<line x1="29.3" y1="262.6" x2="30.9" y2="262.6" stroke="#262626" stroke-width="0.6"/>
<line x1="616.4" y1="262.6" x2="614.8" y2="262.6" stroke="#262626" stroke-width="0.6"/>
<text x="27.5" y="265.35" text-anchor="end" class="tk">0</text>
<line x1="29.3" y1="238.16" x2="30.9" y2="238.16" stroke="#262626" stroke-width="0.6"/>
<line x1="616.4" y1="238.16" x2="614.8" y2="238.16" stroke="#262626" stroke-width="0.6"/>
<text x="26.3" y="240.91" text-anchor="end" class="tk">0.5</text>
<line x1="29.3" y1="213.72" x2="30.9" y2="213.72" stroke="#262626" stroke-width="0.6"/>
<line x1="616.4" y1="213.72" x2="614.8" y2="213.72" stroke="#262626" stroke-width="0.6"/>
<text x="27.5" y="216.47" text-anchor="end" class="tk">1</text>
<line x1="29.3" y1="189.28" x2="30.9" y2="189.28" stroke="#262626" stroke-width="0.6"/>
<line x1="616.4" y1="189.28" x2="614.8" y2="189.28" stroke="#262626" stroke-width="0.6"/>
<text x="26.3" y="192.03" text-anchor="end" class="tk">1.5</text>
<line x1="29.3" y1="164.84" x2="30.9" y2="164.84" stroke="#262626" stroke-width="0.6"/>
<line x1="616.4" y1="164.84" x2="614.8" y2="164.84" stroke="#262626" stroke-width="0.6"/>
<text x="27.5" y="167.59" text-anchor="end" class="tk">2</text>
<line x1="29.3" y1="140.4" x2="30.9" y2="140.4" stroke="#262626" stroke-width="0.6"/>
<line x1="616.4" y1="140.4" x2="614.8" y2="140.4" stroke="#262626" stroke-width="0.6"/>
<text x="26.3" y="143.15" text-anchor="end" class="tk">2.5</text>
<path d="M31,134.1 L34.8,137.5 M34.8,134.1 L31,137.5" stroke="#262626" stroke-width="0.75" fill="none"/>
<text x="36.8" y="138.0" class="tk">10</text><text x="46.8" y="134.7" class="tk" style="font-size:6.3px">6</text>
<text transform="translate(11.9,246.2) rotate(-90)" class="lab" textLength="72" lengthAdjust="spacing">Cropland area (km</text>
<text transform="translate(9.3,172.3) rotate(-90)" class="lab" style="font-size:6.3px">2</text>
<text transform="translate(12.4,168.8) rotate(-90)" class="lab" style="font-size:9.2px">)</text>
<text transform="translate(39.29,272.9) rotate(-24)" text-anchor="end" class="tk">Thailand</text>
<text transform="translate(58.86,272.9) rotate(-24)" text-anchor="end" class="tk">Romania</text>
<text transform="translate(78.42,272.9) rotate(-24)" text-anchor="end" class="tk">Myanmar</text>
<text transform="translate(98,272.9) rotate(-24)" text-anchor="end" class="tk">Indonesia</text>
<text transform="translate(117.56,272.9) rotate(-24)" text-anchor="end" class="tk">Uganda</text>
<text transform="translate(137.13,272.9) rotate(-24)" text-anchor="end" class="tk">Ukraine</text>
<text transform="translate(156.7,272.9) rotate(-24)" text-anchor="end" class="tk">Tanzania</text>
<text transform="translate(176.28,272.9) rotate(-24)" text-anchor="end" class="tk">Russia</text>
<text transform="translate(195.84,272.9) rotate(-24)" text-anchor="end" class="tk">Italy</text>
<text transform="translate(215.41,272.9) rotate(-24)" text-anchor="end" class="tk">France</text>
<text transform="translate(234.99,272.9) rotate(-24)" text-anchor="end" class="tk">Ethiopia</text>
<text transform="translate(254.56,272.9) rotate(-24)" text-anchor="end" class="tk">Germany</text>
<text transform="translate(274.12,272.9) rotate(-24)" text-anchor="end" class="tk">India</text>
<text transform="translate(293.69,272.9) rotate(-24)" text-anchor="end" class="tk">Bangladesh</text>
<text transform="translate(313.26,272.9) rotate(-24)" text-anchor="end" class="tk">Brazil</text>
<text transform="translate(332.83,272.9) rotate(-24)" text-anchor="end" class="tk">Canada</text>
<text transform="translate(352.41,272.9) rotate(-24)" text-anchor="end" class="tk">Mexico</text>
<text transform="translate(371.98,272.9) rotate(-24)" text-anchor="end" class="tk">Australia</text>
<text transform="translate(391.55,272.9) rotate(-24)" text-anchor="end" class="tk">Poland</text>
<text transform="translate(411.12,272.9) rotate(-24)" text-anchor="end" class="tk">Nigeria</text>
<text transform="translate(430.69,272.9) rotate(-24)" text-anchor="end" class="tk">China</text>
<text transform="translate(450.25,272.9) rotate(-24)" text-anchor="end" class="tk">Spain</text>
<text transform="translate(467.02,273.7) rotate(-24)" text-anchor="end" class="tk">United States</text>
<text transform="translate(487.19,273.4) rotate(-24)" text-anchor="end" class="tk">Kazakhstan</text>
<text transform="translate(506.87,273.4) rotate(-24)" text-anchor="end" class="tk">Argentina</text>
<text transform="translate(529.04,271.9) rotate(-24)" text-anchor="end" class="tk">Chad</text>
<text transform="translate(548.11,271.9) rotate(-24)" text-anchor="end" class="tk">Sudan</text>
<text transform="translate(567.67,272.9) rotate(-24)" text-anchor="end" class="tk">Turkey</text>
<text transform="translate(588.04,272.2) rotate(-24)" text-anchor="end" class="tk">Iran</text>
<text transform="translate(606.12,272.9) rotate(-24)" text-anchor="end" class="tk">Pakistan</text>
<rect x="624.1" y="140" width="12.5" height="41.13" fill="#0b6e2f"/>
<rect x="624.1" y="180.93" width="12.5" height="41.13" fill="#3d85c6"/>
<rect x="624.1" y="221.87" width="12.5" height="41.13" fill="#9b4fa8"/>
<rect x="624.1" y="140" width="12.5" height="122.8" fill="none" stroke="#8a8a8a" stroke-width="0.5"/>
<line x1="635.2" y1="160.47" x2="636.6" y2="160.47" stroke="#262626" stroke-width="0.6"/>
<text x="639.5" y="162.97" class="tk" style="font-size:7.2px">Trees</text>
<line x1="635.2" y1="201.4" x2="636.6" y2="201.4" stroke="#262626" stroke-width="0.6"/>
<text x="639.5" y="203.9" class="tk" style="font-size:7.2px">Grasses</text>
<line x1="635.2" y1="242.33" x2="636.6" y2="242.33" stroke="#262626" stroke-width="0.6"/>
<text x="639.5" y="244.83" class="tk" style="font-size:7.2px">Shrubs/Barren</text>
</svg>
</body></html>
